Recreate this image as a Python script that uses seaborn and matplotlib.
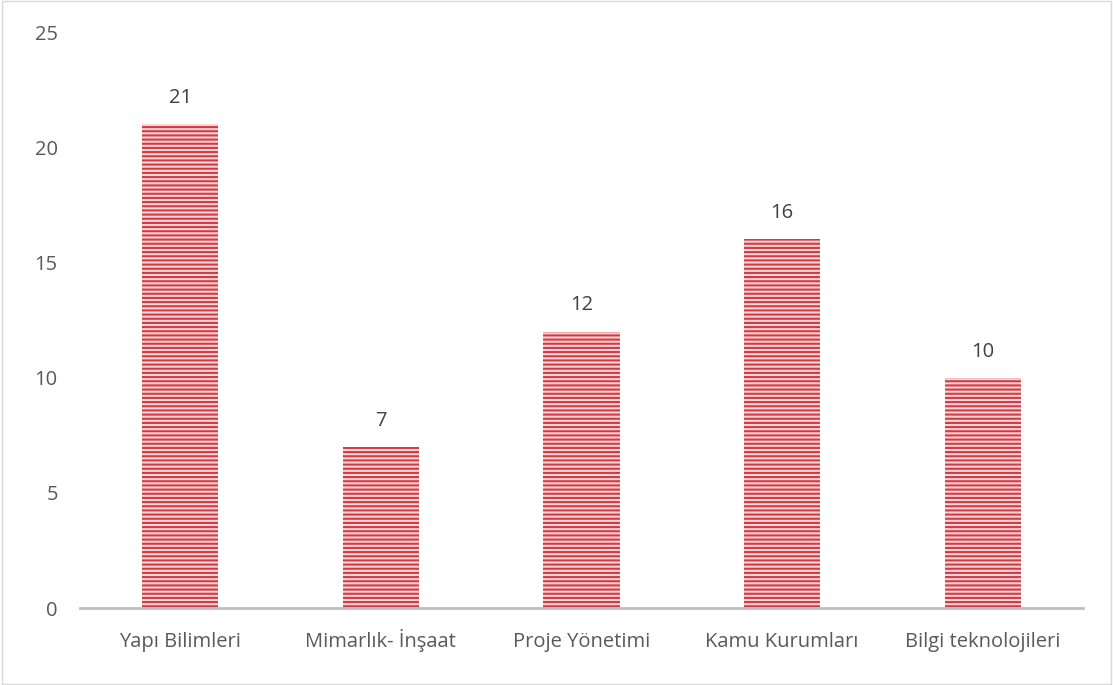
import matplotlib
matplotlib.use("Agg")
import matplotlib.pyplot as plt
import seaborn as sns
import pandas as pd
from matplotlib.patches import Rectangle

categories = ["Yapı Bilimleri", "Mimarlık- İnşaat", "Proje Yönetimi", "Kamu Kurumları", "Bilgi teknolojileri"]
values = [21, 7, 12, 16, 10]
yticks = [0, 5, 10, 15, 20, 25]

sns.set_style("white")
plt.rcParams['font.family'] = ['Open Sans', 'DejaVu Sans']
plt.rcParams['hatch.color'] = '#d23a44'
plt.rcParams['hatch.linewidth'] = 1.5

df = pd.DataFrame({"cat": categories, "val": values})
fig = plt.figure(figsize=(11.13, 6.85), dpi=100)
ax = fig.add_axes([80/1113, 1-608/685, (1083-80)/1113, (608-32)/685])
sns.barplot(data=df, x="cat", y="val", ax=ax, color="#f8d6d8", width=0.38,
            saturation=1, linewidth=0)
for p in ax.patches:
    p.set_hatch("----")
    p.set_edgecolor("#d23a44")
    p.set_linewidth(0)
for p, v in zip(ax.patches, values):
    ax.text(p.get_x() + p.get_width()/2, v + 1.13, str(v), ha="center", va="center",
            fontsize=14.5, color="#404040")
ax.set_ylim(0, 25)
ax.set_xlim(-0.5, 4.5)
ax.set_yticks(yticks)
ax.set_yticklabels([str(t) for t in yticks], fontsize=14.5, color="#595959")
ax.tick_params(axis='x', labelsize=14.5, labelcolor="#595959", length=0, pad=28)
for lbl in ax.get_xticklabels():
    lbl.set_verticalalignment("baseline")
ax.tick_params(axis='y', length=0, pad=16)
ax.set_xlabel("")
ax.set_ylabel("")
for s in ["top", "right", "left"]:
    ax.spines[s].set_visible(False)
ax.spines["bottom"].set_color("#bfbfbf")
ax.spines["bottom"].set_linewidth(2)
fig.patches.append(Rectangle((0.002, 0.002), 0.996, 0.996, transform=fig.transFigure,
                             fill=False, edgecolor="#d9d9d9", linewidth=1))
fig.savefig("out.png", dpi=100)
